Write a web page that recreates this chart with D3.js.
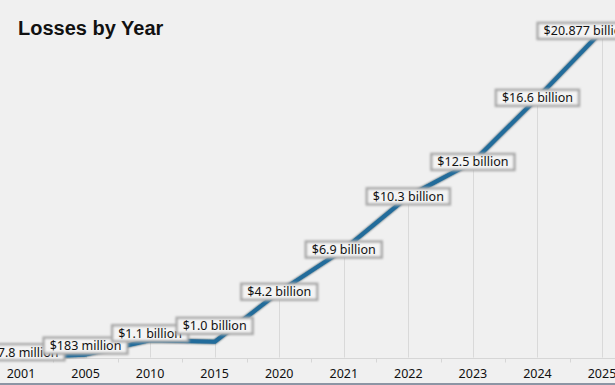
<!DOCTYPE html>
<html>
<head>
<meta charset="utf-8">
<script src="https://cdn.jsdelivr.net/npm/d3@7"></script>
<style>
  html, body { margin: 0; padding: 0; background: #f0f0f0; }
  #chart { width: 615px; height: 385px; overflow: hidden; }
</style>
</head>
<body>
<div id="chart"></div>
<script>
const years = ['2001', '2005', '2010', '2015', '2020', '2021', '2022', '2023', '2024', '2025'];
// losses in billions of dollars
const losses = [0.0178, 0.183, 1.1, 1.0, 4.2, 6.9, 10.3, 12.5, 16.6, 20.877];
const lossLabels = ['$17.8 million', '$183 million', '$1.1 billion', '$1.0 billion', '$4.2 billion',
  '$6.9 billion', '$10.3 billion', '$12.5 billion', '$16.6 billion', '$20.877 billion'];

function LossesChart(divID) {
  const width = 615;
  const height = 385;
  const fontFamily = '"Noto Sans", sans-serif';

  // Labels of the small values were pushed up in the original to avoid overlap
  const labelNudge = {'2001': -5, '2005': -9, '2010': -7, '2015': -16};

  d3.select('#' + divID).selectAll('*').remove();

  const svg = d3.select('#' + divID)
    .append('svg')
    .attr('width', width)
    .attr('height', height)
    .attr('viewBox', `0 0 ${width} ${height}`);

  svg.append('rect')
    .attr('width', width)
    .attr('height', height)
    .attr('fill', '#f0f0f0');

  // shadow filters
  const defs = svg.append('defs');
  defs.append('filter')
    .attr('id', 'lineShadow')
    .attr('x', '-10%').attr('y', '-10%').attr('width', '120%').attr('height', '120%')
    .append('feDropShadow')
    .attr('dx', 0).attr('dy', 0)
    .attr('stdDeviation', 1.3)
    .attr('flood-color', '#0b2233')
    .attr('flood-opacity', 0.9);
  defs.append('filter')
    .attr('id', 'boxShadow')
    .attr('x', '-20%').attr('y', '-50%').attr('width', '140%').attr('height', '200%')
    .append('feGaussianBlur')
    .attr('stdDeviation', 0.9);

  const xScale = d3.scaleBand()
    .domain(years)
    .range([-11.3, 634.3]);

  const yScale = d3.scaleLinear()
    .domain([0, 21])
    .range([357.5, 29]);

  const xc = d => xScale(d) + xScale.bandwidth() / 2;

  // x-axis
  const xAxis = svg.append('g')
    .attr('class', 'x-axis')
    .attr('transform', `translate(0, ${yScale(0) + 0.5})`)
    .call(d3.axisBottom(xScale).tickSize(0).tickPadding(11));
  xAxis.select('.domain').attr('stroke', '#d6d6d6');
  xAxis.selectAll('text')
    .style('font-family', fontFamily)
    .style('font-size', '12.5px')
    .style('fill', '#111');

  // ticks between categories
  svg.append('g')
    .selectAll('line')
    .data(years.slice(1))
    .join('line')
    .attr('x1', d => Math.round(xScale(d)) + 0.5)
    .attr('x2', d => Math.round(xScale(d)) + 0.5)
    .attr('y1', yScale(0) + 0.5)
    .attr('y2', yScale(0) + 5)
    .attr('stroke', '#d6d6d6');

  // drop lines
  svg.append('g')
    .selectAll('line')
    .data(years)
    .join('line')
    .attr('x1', d => Math.round(xc(d)) + 0.5)
    .attr('x2', d => Math.round(xc(d)) + 0.5)
    .attr('y1', (d, i) => yScale(losses[i]))
    .attr('y2', yScale(0))
    .attr('stroke', '#d9d9d9');

  // title
  svg.append('text')
    .attr('x', 18)
    .attr('y', 35)
    .style('font-family', '"Liberation Sans", Arial, sans-serif')
    .style('font-weight', 'bold')
    .style('font-size', '20px')
    .style('fill', '#111')
    .text('Losses by Year');

  // line
  const line = d3.line()
    .x(d => xc(d.year))
    .y(d => yScale(d.value));
  const points = years.map((y, i) => ({year: y, value: losses[i], label: lossLabels[i]}));

  svg.append('path')
    .datum(points)
    .attr('d', line)
    .attr('fill', 'none')
    .attr('stroke', '#216c9b')
    .attr('stroke-width', 4)
    .attr('stroke-linejoin', 'round')
    .attr('filter', 'url(#lineShadow)');

  // data labels
  const label = svg.append('g')
    .selectAll('g')
    .data(points)
    .join('g');

  label.append('text')
    .attr('class', 'data-text')
    .attr('text-anchor', 'middle')
    .attr('dominant-baseline', 'central')
    .style('font-family', fontFamily)
    .style('font-size', '12.5px')
    .style('fill', '#111')
    .text(d => d.label);

  label.each(function(d) {
    const g = d3.select(this);
    const w = g.select('text').node().getComputedTextLength() + 12;
    const h = 16;
    let cx = xc(d.year);
    if (cx + w / 2 > width + 20) cx = width + 20 - w / 2;
    const cy = yScale(d.value) + (labelNudge[d.year] || 0);
    g.attr('transform', `translate(${cx}, ${cy})`);
    g.insert('rect', 'text')
      .attr('x', -w / 2)
      .attr('y', -h / 2)
      .attr('width', w)
      .attr('height', h)
      .attr('fill', '#f4f4f4')
      .attr('stroke', '#a8a8a8')
      .attr('stroke-width', 2.5)
      .attr('filter', 'url(#boxShadow)');
  });

  // bottom border
  svg.append('rect')
    .attr('x', 0)
    .attr('y', height - 2)
    .attr('width', width)
    .attr('height', 2)
    .attr('fill', '#8c95a4');
}

LossesChart('chart');
</script>
</body>
</html>
